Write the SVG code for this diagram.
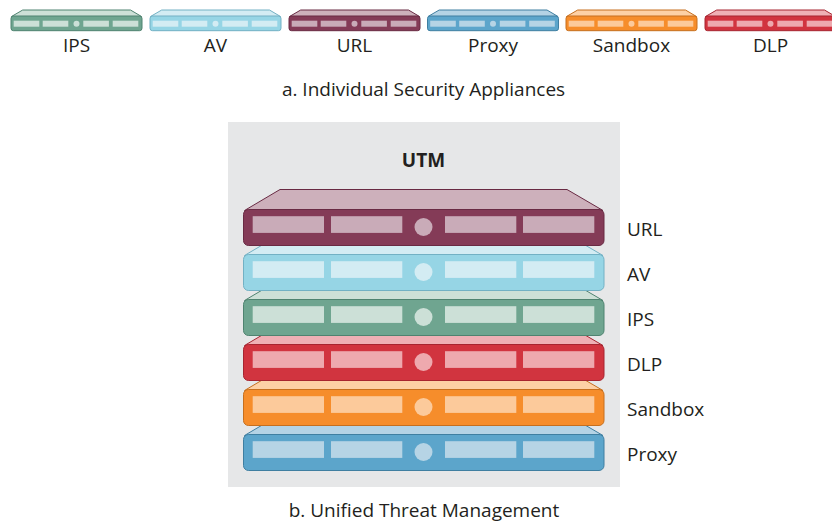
<svg xmlns="http://www.w3.org/2000/svg" width="832" height="523" viewBox="0 0 832 523">
  <style>
    text { font-family: "Open Sans", "Noto Sans", "Liberation Sans", sans-serif; fill: #231f20; font-size: 19px; }
    .lbl { text-anchor: middle; }
    .title { font-weight: bold; text-anchor: middle; }
    .top { fill: var(--t); stroke: var(--s); stroke-width: 1; stroke-linejoin: round; }
    .front { fill: var(--f); stroke: var(--s); stroke-width: 1; }
    .slot { fill: var(--l); stroke: none; }
    /* colour schemes per appliance type */
    .ips { --f: #6fa590; --t: #cde0d7; --l: #cce0d7; --s: #4f8370; }
    .av { --f: #96d5e5; --t: #d3ecf3; --l: #d3ecf3; --s: #72b1c4; }
    .url { --f: #843b57; --t: #cdb0bb; --l: #c9abb8; --s: #692a43; }
    .proxy { --f: #5ca5cb; --t: #b4d3e5; --l: #b6d4e5; --s: #3f7fa1; }
    .sandbox { --f: #f68d2b; --t: #fdd0a5; --l: #fcca9b; --s: #c66f1e; }
    .dlp { --f: #d1343f; --t: #efb0b5; --l: #eea9ae; --s: #a72530; }
  </style>

  <defs>
    <!-- small appliance: front face 131 x 14.7, top bevel 6 high -->
    <g id="small">
      <polygon class="top" points="0.5,0.5 11.7,-6 119.5,-6 130.5,0.5"/>
      <rect class="front" x="0" y="0" width="131" height="14.7" rx="2.5"/>
      <rect class="slot" x="2.7" y="4.7" width="25.6" height="6"/>
      <rect class="slot" x="31.7" y="4.7" width="25.6" height="6"/>
      <circle class="slot" cx="65.5" cy="7.7" r="3"/>
      <rect class="slot" x="72.3" y="4.7" width="25.6" height="6"/>
      <rect class="slot" x="101.7" y="4.7" width="25.6" height="6"/>
    </g>
    <!-- large appliance: front face 360.5 x 36, top bevel 20 high -->
    <g id="large">
      <polygon class="top" points="1,1 36.5,-20 323.5,-20 359.5,1"/>
      <rect class="front" x="0" y="0" width="360.5" height="36" rx="5"/>
      <rect class="slot" x="9.2" y="6.7" width="71.3" height="16.7"/>
      <rect class="slot" x="87.5" y="6.7" width="71.3" height="16.7"/>
      <circle class="slot" cx="180" cy="17.5" r="9"/>
      <rect class="slot" x="201.5" y="6.7" width="71.3" height="16.7"/>
      <rect class="slot" x="279.5" y="6.7" width="71.3" height="16.7"/>
    </g>
  </defs>

  <!-- a. individual appliances -->
  <g id="appliance-ips" class="ips"><use href="#small" x="11" y="16"/><text class="lbl" x="76.5" y="52">IPS</text></g>
  <g id="appliance-av" class="av"><use href="#small" x="150" y="16"/><text class="lbl" x="215.5" y="52">AV</text></g>
  <g id="appliance-url" class="url"><use href="#small" x="289" y="16"/><text class="lbl" x="354.5" y="52">URL</text></g>
  <g id="appliance-proxy" class="proxy"><use href="#small" x="427.5" y="16"/><text class="lbl" x="493" y="52">Proxy</text></g>
  <g id="appliance-sandbox" class="sandbox"><use href="#small" x="566" y="16"/><text class="lbl" x="631.5" y="52">Sandbox</text></g>
  <g id="appliance-dlp" class="dlp"><use href="#small" x="705" y="16"/><text class="lbl" x="770.5" y="52">DLP</text></g>

  <text id="caption-a" class="lbl" x="423.5" y="96">a. Individual Security Appliances</text>

  <!-- b. unified threat management stack -->
  <g id="utm">
    <rect x="228" y="122" width="392" height="365" fill="#e6e7e8"/>
    <text class="title" x="423.5" y="166.5">UTM</text>
    <!-- drawn bottom-up so each unit covers the bevel of the one below -->
    <g id="utm-proxy" class="proxy"><use href="#large" x="243.5" y="434.5"/></g>
    <g id="utm-sandbox" class="sandbox"><use href="#large" x="243.5" y="389.5"/></g>
    <g id="utm-dlp" class="dlp"><use href="#large" x="243.5" y="344.5"/></g>
    <g id="utm-ips" class="ips"><use href="#large" x="243.5" y="299.5"/></g>
    <g id="utm-av" class="av"><use href="#large" x="243.5" y="254.5"/></g>
    <g id="utm-url" class="url"><use href="#large" x="243.5" y="209.5"/></g>
  </g>

  <g id="utm-labels">
    <text x="627" y="235.5">URL</text>
    <text x="627" y="280.5">AV</text>
    <text x="627" y="325.5">IPS</text>
    <text x="627" y="370.5">DLP</text>
    <text x="627" y="415.5">Sandbox</text>
    <text x="627" y="460.5">Proxy</text>
  </g>

  <text id="caption-b" class="lbl" x="424" y="516.5">b. Unified Threat Management</text>
</svg>
